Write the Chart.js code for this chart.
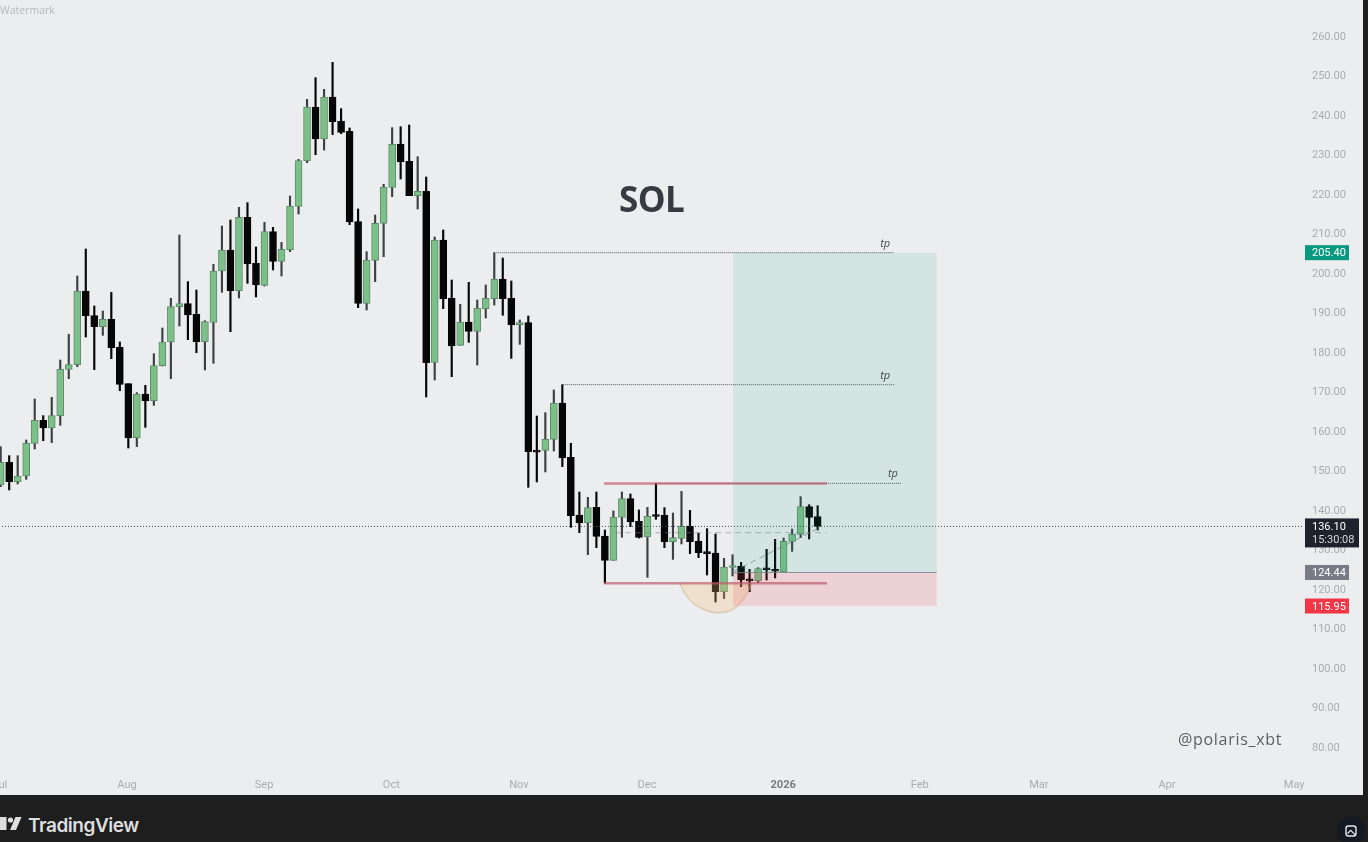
<!DOCTYPE html>
<html>
<head>
<meta charset="utf-8">
<title>SOL</title>
<script src="https://cdn.jsdelivr.net/npm/chart.js@4"></script>
<style>
  html, body { margin: 0; padding: 0; width: 1368px; height: 842px; overflow: hidden; background: #1e1e1e; }
  #pane { position: absolute; left: 0; top: 0; width: 1363px; height: 795px; overflow: hidden; background: #ecedef; }
  #chart { position: absolute; left: -40px; top: -20px; }
  .note { position: absolute; white-space: nowrap; line-height: 1; }
  #sol { left: 619px; top: 175px; font: 700 35px "Open Sans", sans-serif; color: #373a40; letter-spacing: -0.6px; }
  #handle { left: 1178px; top: 728px; font: 400 16px "Open Sans", sans-serif; color: #5b5e64; letter-spacing: 0.7px; }
  #mark { left: 0; top: 3px; font: 400 10.5px "Open Sans", sans-serif; color: #b4b6bb; }
  #brand { left: 28px; top: 814px; font: 600 19px Inter, sans-serif; color: #dedede; letter-spacing: -0.45px; }
  #logo { position: absolute; left: 0; top: 815px; }
  #snap { position: absolute; left: 1337px; top: 817px; }
</style>
</head>
<body>
<div id="pane">
  <canvas id="chart" width="1403" height="815" style="width:1403px;height:815px"></canvas>
  <div class="note" id="sol">SOL</div>
  <div class="note" id="handle">@polaris_xbt</div>
  <div class="note" id="mark">Watermark</div>
</div>
<svg id="logo" width="24" height="18" viewBox="0 0 24 18">
  <rect x="0" y="2" width="6.5" height="13" fill="#dedede"/>
  <circle cx="10.5" cy="5" r="2.6" fill="#dedede"/>
  <path d="M15.5 2 H21.5 L16 15 H10 Z" fill="#dedede"/>
</svg>
<div class="note" id="brand">TradingView</div>
<svg id="snap" width="28" height="25" viewBox="0 0 28 25">
  <circle cx="14" cy="14" r="14" fill="#131a24"/>
  <rect x="9" y="9" width="10" height="10" rx="2.5" fill="none" stroke="#e8e8e8" stroke-width="1.4"/>
  <path d="M10.5 16.5 l3.2 -3.2 l4.3 4.3" fill="none" stroke="#e8e8e8" stroke-width="1.3"/>
</svg>
<script>
  // prices, one entry per 2D candle
  const openPrices = [146.58, 152.32, 147.43, 148.86, 157.13, 162.95, 161.01, 164.14, 175.87, 177.05, 195.70, 189.45, 186.67, 188.52, 181.44, 172.24, 158.48, 169.62, 167.93, 176.79, 182.79, 191.73, 192.49, 189.79, 182.87, 187.76, 200.76, 206.08, 195.78, 214.35, 202.70, 197.13, 210.72, 203.21, 206.16, 217.13, 228.69, 242.28, 234.18, 244.81, 238.65, 236.12, 213.25, 192.57, 203.46, 212.83, 221.94, 232.91, 228.52, 219.83, 220.93, 177.64, 208.61, 193.92, 181.94, 187.85, 185.49, 191.22, 193.76, 198.74, 193.84, 187.17, 187.68, 155.19, 155.36, 158.15, 167.35, 153.59, 138.99, 137.05, 140.93, 133.67, 127.51, 138.40, 143.13, 137.39, 133.42, 138.91, 138.99, 132.24, 133.08, 136.20, 132.32, 129.45, 129.37, 119.58, 125.70, 125.99, 122.53, 122.28, 125.32, 124.98, 124.56, 132.32, 134.09, 141.10, 138.57];
  const closePrices = [152.32, 147.43, 148.86, 157.13, 162.95, 161.01, 164.14, 175.87, 177.05, 195.70, 189.45, 186.67, 188.52, 181.35, 172.07, 158.48, 169.62, 167.85, 176.79, 182.79, 191.73, 192.49, 189.62, 182.87, 187.93, 200.76, 206.08, 195.78, 214.35, 202.53, 197.22, 210.72, 203.21, 206.25, 217.22, 228.69, 242.28, 234.18, 244.81, 238.57, 235.87, 213.16, 192.57, 203.55, 212.83, 222.03, 232.83, 228.36, 219.83, 220.93, 177.55, 208.61, 193.76, 181.77, 187.85, 185.49, 191.31, 193.84, 198.74, 193.76, 187.09, 187.68, 155.03, 154.90, 158.15, 167.35, 153.42, 138.82, 136.97, 140.85, 133.59, 127.51, 138.48, 143.13, 137.22, 133.34, 138.65, 138.60, 132.24, 133.25, 136.20, 132.24, 129.45, 129.20, 119.58, 125.82, 125.91, 122.53, 122.30, 125.40, 125.10, 124.75, 132.32, 134.09, 141.10, 138.40, 136.10];
  const highPrices = [156.29, 154.01, 154.01, 157.98, 168.36, 164.14, 168.78, 178.23, 184.73, 199.49, 206.33, 191.90, 190.63, 195.36, 182.79, 172.24, 169.96, 171.81, 179.83, 186.33, 193.84, 209.87, 198.06, 195.95, 188.18, 202.45, 212.15, 213.67, 216.88, 218.06, 206.84, 213.08, 211.82, 208.02, 219.75, 229.03, 244.22, 249.71, 246.75, 253.59, 241.86, 236.96, 216.46, 205.66, 214.94, 222.70, 237.05, 237.30, 237.72, 229.71, 224.56, 209.37, 211.14, 198.48, 192.32, 197.89, 193.42, 197.22, 205.40, 204.05, 198.23, 188.36, 189.37, 164.05, 164.90, 170.64, 171.99, 157.13, 144.81, 143.46, 144.81, 135.19, 140.00, 144.81, 144.31, 140.26, 140.93, 147.00, 140.85, 139.49, 144.98, 140.17, 134.35, 135.53, 134.18, 128.02, 128.95, 127.00, 125.23, 125.65, 130.30, 132.83, 133.17, 135.44, 143.63, 141.60, 141.35];
  const lowPrices = [146.16, 145.32, 146.84, 148.02, 155.70, 157.81, 157.30, 161.69, 173.50, 176.54, 184.05, 175.78, 184.47, 178.57, 170.46, 155.95, 156.29, 161.18, 166.75, 176.71, 173.50, 186.84, 183.38, 180.08, 175.70, 177.39, 195.36, 185.40, 193.92, 197.64, 194.18, 196.96, 201.01, 199.49, 205.66, 215.19, 228.19, 230.21, 231.39, 235.28, 235.53, 212.49, 191.48, 190.89, 198.06, 204.39, 219.58, 224.05, 219.83, 216.46, 168.86, 173.17, 191.23, 174.01, 181.94, 182.70, 176.96, 188.86, 192.15, 189.54, 178.65, 182.19, 146.00, 147.35, 149.88, 155.19, 151.23, 135.87, 134.52, 128.95, 130.72, 121.69, 127.51, 133.34, 136.04, 133.17, 123.21, 137.89, 130.72, 127.76, 131.65, 129.20, 128.19, 123.80, 116.96, 117.81, 123.55, 120.84, 119.58, 121.86, 122.53, 123.04, 124.56, 129.79, 133.25, 132.91, 135.19];
  const candleIndex = highPrices.map((_, i) => i);

  const monthTicks = [-0.1, 14.85, 30.95, 45.9, 60.9, 75.95, 91.95, 108, 122, 137.05, 152];
  const monthLabels = ['Jul', 'Aug', 'Sep', 'Oct', 'Nov', 'Dec', '2026', 'Feb', 'Mar', 'Apr', 'May'];
  const priceTicks = [270, 260, 250, 240, 230, 220, 210, 200, 190, 180, 170, 160, 150, 140, 130, 120, 110, 100, 90, 80];

  // position tool
  const targetPrice = 205.40;
  const entryPrice = 124.44;
  const stopPrice = 115.95;
  const lastPrice = 136.10;
  const zoneStart = 86.05;
  const zoneEnd = 110;

  // hand drawn levels: [from candle, to candle, price]
  const rangeHigh = [70.9, 97.1, 146.96];
  const rangeLow = [70.9, 97.1, 121.7];
  const tpLevels = [[58, 105, 205.40], [66.1, 105, 171.99], [77, 105.9, 147.0]];
  const midDash = [72.2, 97.1, 134.5];
  const trendDash = [[86, 124.6], [96, 135.5]];

  // curved shape under the range
  const bowlX = [79.8, 80.4, 81.2, 82.2, 83.35, 84.5, 85.7, 86.7, 87.5, 88.3];
  const bowlY = [121.7, 119.17, 117.04, 115.52, 114.51, 114.26, 114.76, 116.2, 118.3, 121.7];

  const xMin = -4.78, xMax = 153.15;
  const yMin = 74.18, yMax = 274.43;

  const upColor = '#7dbf88';
  const upEdge = '#5f8a6b';
  const downColor = '#060606';
  const isUp = closePrices.map((c, i) => c >= openPrices[i]);

  function levelLine(level, color, width, dash) {
    return {
      type: 'line',
      data: [{ x: level[0], y: level[2] }, { x: level[1], y: level[2] }],
      borderColor: color,
      borderWidth: width,
      borderDash: dash || [],
      pointRadius: 0,
      order: 1
    };
  }

  function zoneFill(price, color) {
    return {
      type: 'line',
      data: [{ x: zoneStart, y: price }, { x: zoneEnd, y: price }],
      borderColor: 'rgba(0,0,0,0)',
      borderWidth: 0,
      backgroundColor: color,
      fill: { value: entryPrice },
      pointRadius: 0,
      order: 1
    };
  }

  // same order value: the first one in this list ends up on top
  const datasets = [
    levelLine(rangeHigh, 'rgba(190,90,105,0.68)', 2.5),
    levelLine(rangeLow, 'rgba(190,90,105,0.68)', 2.5),
    levelLine([zoneStart, zoneEnd, entryPrice], 'rgba(120,123,134,0.8)', 1),
    zoneFill(targetPrice, 'rgba(8,153,129,0.11)'),
    zoneFill(stopPrice, 'rgba(242,54,69,0.15)'),
    {
      type: 'line',
      data: bowlX.map((x, i) => ({ x, y: bowlY[i] })),
      borderColor: 'rgba(205,180,145,0.55)',
      borderWidth: 1.5,
      backgroundColor: 'rgba(245,190,110,0.26)',
      fill: { value: rangeLow[2] },
      tension: 0.4,
      pointRadius: 0,
      order: 1
    },
    levelLine(midDash, 'rgba(125,130,130,0.55)', 1, [6, 4]),
    {
      type: 'line',
      data: trendDash.map(p => ({ x: p[0], y: p[1] })),
      borderColor: 'rgba(125,130,130,0.7)',
      borderWidth: 1,
      borderDash: [6, 4],
      pointRadius: 0,
      order: 1
    },
    levelLine([xMin, xMax, lastPrice], '#4a4c52', 1, [1, 2]),
    ...tpLevels.map(l => levelLine(l, '#55585e', 1, [1, 1])),
    {
      label: 'body',
      data: candleIndex.map(i => ({ x: i, y: [openPrices[i], closePrices[i]] })),
      backgroundColor: isUp.map(u => u ? upColor : downColor),
      borderColor: isUp.map(u => u ? upEdge : downColor),
      borderWidth: 1,
      borderSkipped: false,
      barThickness: 7,
      minBarLength: 2,
      grouped: false,
      order: 2
    },
    {
      label: 'wick',
      data: candleIndex.map(i => ({ x: i, y: [lowPrices[i], highPrices[i]] })),
      backgroundColor: isUp.map(u => u ? '#3d4143' : downColor),
      barThickness: 1.5,
      grouped: false,
      order: 3
    }
  ];

  // price tags on the axis and the small tp notes
  const tagPrices = [targetPrice, entryPrice, stopPrice];
  const tagColors = ['#089981', '#787b86', '#f23645'];

  const overlayPlugin = {
    id: 'overlay',
    afterDraw(chart) {
      const { ctx, chartArea, scales } = chart;
      const y = scales.y, x = scales.x;
      ctx.save();
      ctx.textBaseline = 'middle';
      ctx.textAlign = 'left';

      // tp text sits just above the end of each level
      ctx.font = 'italic 11px "Open Sans", sans-serif';
      ctx.fillStyle = '#44474d';
      tpLevels.forEach(l => {
        ctx.fillText('tp', x.getPixelForValue(l[1]) - 14, y.getPixelForValue(l[2]) - 9);
      });

      const left = chartArea.right + 1;
      ctx.font = '11px Roboto, sans-serif';
      tagPrices.forEach((p, i) => {
        const py = y.getPixelForValue(p);
        ctx.fillStyle = tagColors[i];
        ctx.fillRect(left, py - 7.5, 44, 15);
        ctx.fillStyle = '#fff';
        ctx.fillText(p.toFixed(2), left + 7, py + 1);
      });

      const py = y.getPixelForValue(lastPrice);
      ctx.fillStyle = '#1e222d';
      ctx.fillRect(left, py - 8, 54, 29);
      ctx.fillStyle = '#fff';
      ctx.fillText(lastPrice.toFixed(2), left + 7, py + 0.5);
      ctx.fillStyle = '#d5d7dc';
      ctx.fillText('15:30:08', left + 7, py + 13.5);
      ctx.restore();
    }
  };

  const labelFont = { family: 'Roboto, sans-serif', size: 11 };

  function noPadding(s) {
    s.paddingTop = 0;
    s.paddingBottom = 0;
    s.paddingLeft = 0;
    s.paddingRight = 0;
  }

  new Chart(document.getElementById('chart').getContext('2d'), {
    type: 'bar',
    data: { datasets },
    plugins: [overlayPlugin],
    options: {
      responsive: false,
      animation: false,
      layout: { padding: 0, autoPadding: false },
      plugins: { legend: { display: false }, tooltip: { enabled: false } },
      scales: {
        x: {
          type: 'linear',
          offset: false,
          min: xMin,
          max: xMax,
          grid: { display: false, drawTicks: false, offset: false },
          border: { display: false },
          afterBuildTicks: s => { s.ticks = monthTicks.map(v => ({ value: v })); },
          afterFit: s => { s.height = 24; noPadding(s); },
          ticks: {
            autoSkip: false,
            maxRotation: 0,
            padding: 8,
            font: ctx => ctx.tick && ctx.tick.value === 91.95 ? { ...labelFont, weight: 'bold' } : labelFont,
            color: ctx => ctx.tick && ctx.tick.value === 91.95 ? '#777a80' : '#a9abb1',
            callback: v => monthLabels[monthTicks.indexOf(v)]
          }
        },
        y: {
          position: 'right',
          min: yMin,
          max: yMax,
          grid: { display: false, drawTicks: false },
          border: { display: false },
          afterBuildTicks: s => { s.ticks = priceTicks.map(v => ({ value: v })); },
          afterFit: s => { s.width = 59; noPadding(s); },
          ticks: {
            autoSkip: false,
            padding: 8,
            font: labelFont,
            color: '#a9abb1',
            callback: v => Number(v).toFixed(2)
          }
        }
      }
    }
  });
</script>
</body>
</html>
